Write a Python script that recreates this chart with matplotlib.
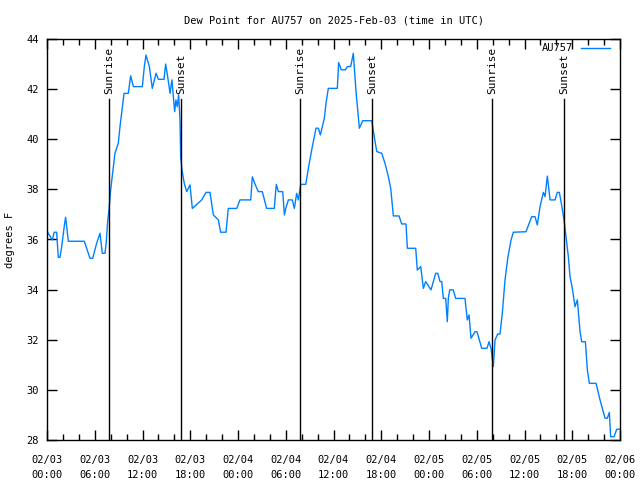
import pandas as pd
import matplotlib
matplotlib.use("Agg")
import matplotlib.pyplot as plt
import matplotlib.dates as mdates

# Dew point readings, hours after 2025-02-03 00:00 UTC
hours = [
    0.08, 0.67, 0.90, 1.21, 1.42, 1.63, 1.84, 2.20, 2.34, 2.68,
    4.69, 5.40, 5.74, 6.24, 6.66, 6.95, 7.29, 7.45, 7.62, 7.79,
    8.00, 8.25, 8.54, 8.96, 9.17, 9.47, 9.68, 10.22, 10.51, 10.85,
    11.98, 12.23, 12.44, 12.86, 13.23, 13.70, 14.00, 14.70, 14.91, 15.29,
    15.46, 15.70, 16.04, 16.20, 16.37, 16.54, 16.71, 16.80, 16.96, 17.25,
    17.55, 17.97, 18.26, 19.44, 19.98, 20.48, 20.90, 21.53, 21.82, 22.49,
    22.78, 23.84, 24.25, 25.60, 25.80, 26.14, 26.55, 27.05, 27.60, 28.56,
    28.81, 29.07, 29.62, 29.83, 30.00, 30.33, 30.83, 31.08, 31.37, 31.58,
    31.88, 32.51, 32.84, 33.26, 33.80, 34.10, 34.35, 34.85, 35.06, 35.35,
    36.48, 36.65, 36.98, 37.48, 37.74, 38.16, 38.49, 38.83, 39.00, 39.25,
    39.67, 40.80, 41.13, 41.43, 42.06, 42.47, 42.89, 43.19, 43.52, 44.23,
    44.57, 45.11, 45.28, 46.33, 46.53, 46.96, 47.29, 47.58, 48.04, 48.25,
    48.84, 49.10, 49.39, 49.60, 49.80, 50.10, 50.30, 50.43, 50.60, 51.05,
    51.35, 52.52, 52.81, 53.03, 53.28, 53.78, 54.03, 54.62, 55.29, 55.54,
    55.79, 56.08, 56.30, 56.63, 56.92, 57.21, 57.55, 57.89, 58.31, 58.60,
    60.19, 60.90, 61.32, 61.61, 61.95, 62.37, 62.58, 62.87, 63.21, 63.84,
    64.12, 64.38, 64.63, 64.97, 65.22, 65.51, 65.72, 66.01, 66.35, 66.64,
    66.98, 67.19, 67.40, 67.65, 67.90, 68.15, 68.99, 69.49, 70.12, 70.40,
    70.66, 70.83, 71.25, 71.59, 72.00,
]
dewpoint_f = [
    36.29, 35.98, 36.29, 36.29, 35.29, 35.29, 35.70, 36.60, 36.89, 35.93,
    35.93, 35.25, 35.25, 35.85, 36.25, 35.45, 35.45, 35.90, 36.71, 37.18,
    37.98, 38.64, 39.44, 39.84, 40.50, 41.30, 41.83, 41.83, 42.53, 42.10,
    42.10, 42.90, 43.36, 42.90, 42.03, 42.63, 42.39, 42.39, 43.00, 42.23,
    41.83, 42.37, 41.10, 41.57, 41.30, 41.77, 40.77, 39.30, 38.77, 38.24,
    37.91, 38.18, 37.24, 37.58, 37.88, 37.88, 36.98, 36.78, 36.29, 36.29,
    37.24, 37.24, 37.58, 37.58, 38.50, 38.21, 37.91, 37.91, 37.24, 37.24,
    38.20, 37.91, 37.91, 36.98, 37.24, 37.58, 37.58, 37.24, 37.84, 37.58,
    38.20, 38.20, 38.84, 39.57, 40.44, 40.44, 40.17, 40.84, 41.44, 42.03,
    42.03, 43.06, 42.77, 42.77, 42.90, 42.90, 43.43, 41.90, 41.30, 40.44,
    40.74, 40.74, 40.10, 39.51, 39.44, 39.04, 38.51, 38.04, 36.94, 36.94,
    36.62, 36.62, 35.65, 35.65, 34.78, 34.92, 34.05, 34.32, 34.09, 33.99,
    34.65, 34.65, 34.32, 34.32, 33.65, 33.65, 32.72, 33.65, 33.99, 33.99,
    33.65, 33.65, 32.79, 32.99, 32.06, 32.32, 32.32, 31.66, 31.66, 31.92,
    31.66, 30.93, 31.99, 32.23, 32.23, 33.05, 34.38, 35.25, 35.98, 36.29,
    36.31, 36.91, 36.91, 36.58, 37.31, 37.88, 37.71, 38.53, 37.58, 37.58,
    37.88, 37.88, 37.44, 36.78, 36.11, 35.31, 34.52, 34.05, 33.32, 33.59,
    32.32, 31.92, 31.92, 31.92, 30.79, 30.26, 30.26, 29.60, 28.87, 28.87,
    29.10, 28.13, 28.13, 28.43, 28.43,
]

sun_hours = [7.79, 16.84, 31.78, 40.84, 55.90, 64.95]
sun_labels = ["Sunrise", "Sunset", "Sunrise", "Sunset", "Sunrise", "Sunset"]

start = pd.Timestamp("2025-02-03 00:00")
end = pd.Timestamp("2025-02-06 00:00")
times = start + pd.to_timedelta(hours, unit="h")
sun_times = start + pd.to_timedelta(sun_hours, unit="h")

plt.rcParams["font.family"] = "DejaVu Sans Mono"
plt.rcParams["font.size"] = 7.5

fig = plt.figure(figsize=(6.4, 4.8), dpi=100)
ax = fig.add_axes([47 / 640, 40 / 480, 573 / 640, 401 / 480])

ax.plot(times, dewpoint_f, color="#0080ff", lw=1, label="AU757")

# sunrise / sunset markers
for t, lab in zip(sun_times, sun_labels):
    ax.plot([t, t], [28, 41.6], color="black", lw=1)
    ax.text(t, 41.8, lab, rotation=90, ha="center", va="bottom", fontsize=8)

ax.set_xlim(start, end)
ax.set_ylim(28, 44)
ax.set_yticks(range(28, 45, 2))

ax.xaxis.set_major_locator(mdates.HourLocator(byhour=[0, 6, 12, 18]))
ax.xaxis.set_minor_locator(mdates.HourLocator(byhour=range(0, 24, 2)))
ax.xaxis.set_major_formatter(mdates.DateFormatter("%m/%d\n%H:%M"))

ax.tick_params(which="both", direction="in", top=True, right=True, width=1)
ax.tick_params(which="major", length=7)
ax.tick_params(which="minor", length=4)
ax.tick_params(axis="x", which="major", pad=10.5)
ax.tick_params(axis="y", which="major", pad=6)
for sp in ax.spines.values():
    sp.set_linewidth(1)

ax.set_title("Dew Point for AU757 on 2025-Feb-03 (time in UTC)",
             fontsize=7.5, pad=11)
ax.set_ylabel("degrees F", labelpad=8)
ax.legend(loc="upper right", bbox_to_anchor=(1 - 6 / 573, 1),
          frameon=False, markerfirst=False, borderaxespad=0,
          handlelength=2.8, handletextpad=0.75)

fig.canvas.draw()
for lbl in ax.get_xticklabels():
    lbl.set_linespacing(1.68)

fig.savefig("out.png", dpi=100)
